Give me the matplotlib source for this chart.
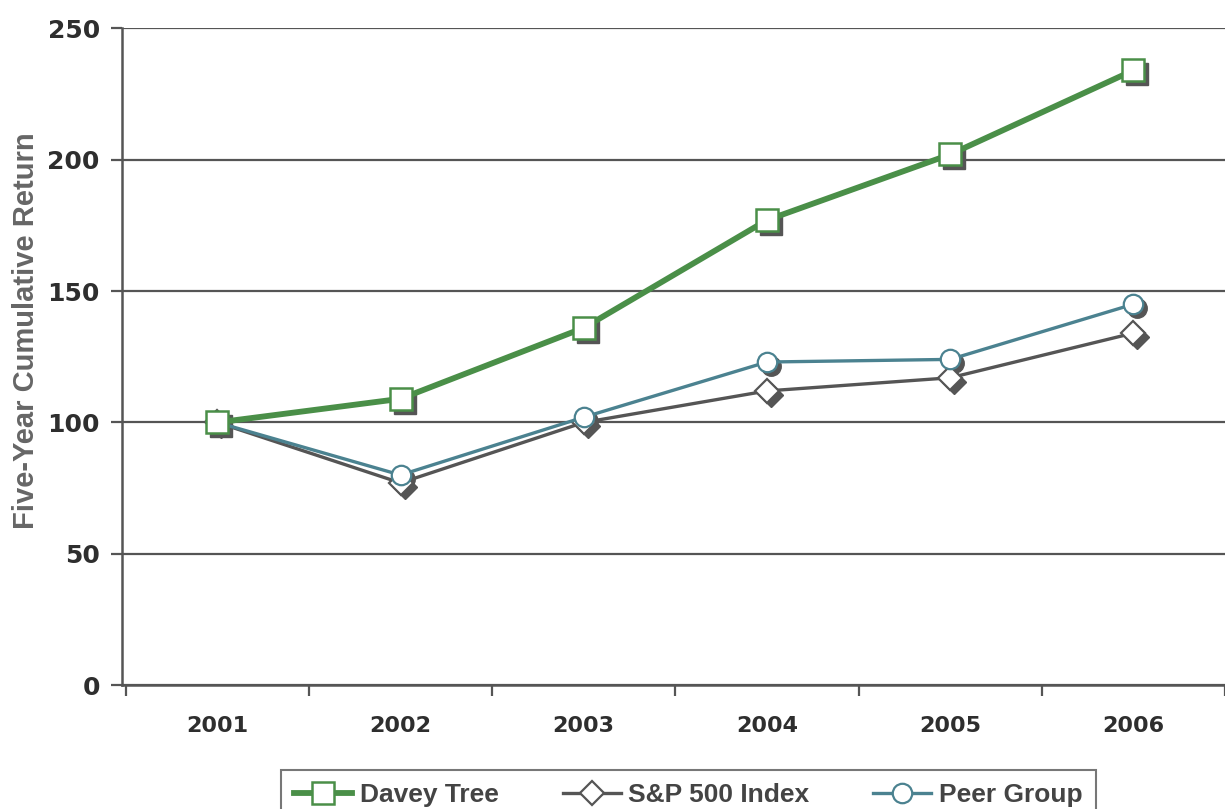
import matplotlib
matplotlib.use("Agg")
import matplotlib.pyplot as plt
import matplotlib.transforms as mtransforms

# data
years = ["2001", "2002", "2003", "2004", "2005", "2006"]
davey = [100, 109, 136, 177, 202, 234]
sp500 = [100, 77, 100, 112, 117, 134]
peer = [100, 80, 102, 123, 124, 145]

green = "#4a8f48"
dark = "#555555"
teal = "#4b8290"

fig = plt.figure(figsize=(12.25, 8.09), dpi=100)
ax = fig.add_axes([0.0996, 0.153, 0.9004, 0.812])

x = list(range(len(years)))

# drop shadows under the markers
shadow = mtransforms.offset_copy(ax.transData, fig=fig, x=4, y=-4, units="dots")
for vals, mk, ms in [(davey, "s", 16), (sp500, "D", 12), (peer, "o", 14)]:
    ax.plot(x, vals, linestyle="none", marker=mk, markersize=ms,
            color=dark, markeredgecolor=dark, transform=shadow, zorder=2)

ax.plot(x, sp500, color=dark, lw=2.4, marker="D", markersize=12,
        markerfacecolor="white", markeredgecolor=dark, markeredgewidth=1.6,
        label="S&P 500 Index", zorder=3)
ax.plot(x, peer, color=teal, lw=2.4, marker="o", markersize=14,
        markerfacecolor="white", markeredgecolor=teal, markeredgewidth=1.6,
        label="Peer Group", zorder=4)
ax.plot(x, davey, color=green, lw=4.2, marker="s", markersize=16,
        markerfacecolor="white", markeredgecolor=green, markeredgewidth=1.8,
        label="Davey Tree", zorder=5)

ax.set_xlim(-0.52, 5.44)
ax.set_ylim(0, 250)
ax.set_yticks([0, 50, 100, 150, 200, 250])
ax.set_xticks(x)
ax.set_xticklabels(years)
ax.set_xticks([i + 0.5 for i in range(-1, len(years))], minor=True)

ax.grid(axis="y", color=dark, lw=1.6)
ax.set_axisbelow(True)
for s in ["top", "right"]:
    ax.spines[s].set_visible(False)
for s in ["left", "bottom"]:
    ax.spines[s].set_color(dark)
    ax.spines[s].set_linewidth(1.8)

ax.tick_params(axis="y", length=8, width=1.6, color=dark, pad=8,
               labelsize=18, labelcolor="#2e2e2e")
ax.tick_params(axis="x", which="major", length=0, pad=22,
               labelsize=16, labelcolor="#2e2e2e")
ax.tick_params(axis="x", which="minor", length=8, width=1.6, color=dark)
for lab in ax.get_xticklabels() + ax.get_yticklabels():
    lab.set_fontweight("bold")

ax.set_ylabel("Five-Year Cumulative Return", fontsize=21, fontweight="bold",
              color="#666666", family=["Liberation Sans Narrow", "Liberation Sans"])
ax.yaxis.set_label_coords(-0.074, 0.54)

h, l = ax.get_legend_handles_labels()
order = [2, 0, 1]
leg = fig.legend([h[i] for i in order], [l[i] for i in order],
                 loc="lower center", bbox_to_anchor=(0.562, -0.03), ncol=3,
                 frameon=True, fancybox=False, edgecolor=dark, handlelength=2.2,
                 columnspacing=2.4, borderpad=0.5, handletextpad=0.3,
                 prop={"family": ["Liberation Sans", "DejaVu Sans"],
                       "weight": "bold", "size": 19})
leg.get_frame().set_linewidth(1.5)
for t in leg.get_texts():
    t.set_color("#444444")

fig.savefig("out.png", dpi=100)
